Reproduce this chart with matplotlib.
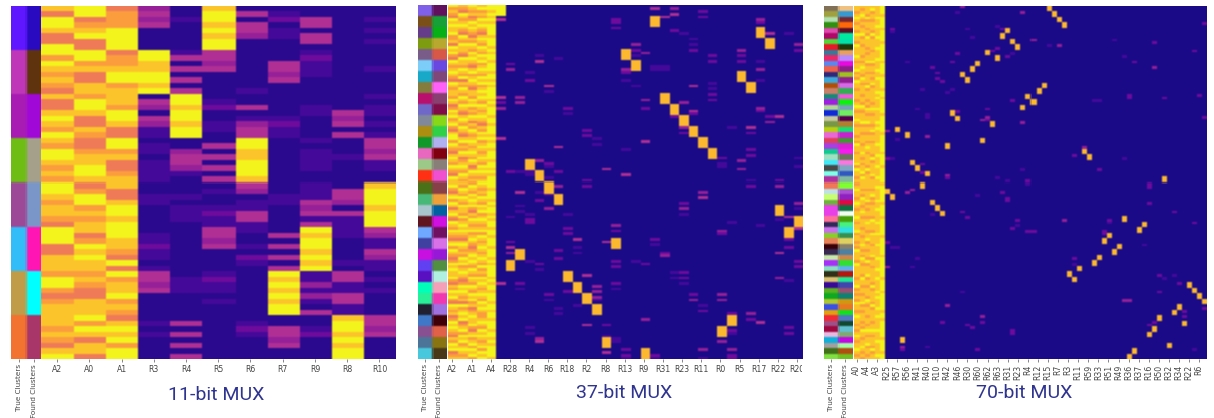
import numpy as np
import matplotlib
matplotlib.use("Agg")
import matplotlib.pyplot as plt
from matplotlib.colors import LinearSegmentedColormap, to_rgb
from matplotlib.transforms import Bbox

FIG_W, FIG_H = 1214, 418
TITLE_COLOR = "#2f3490"
level_colors = ["#1b0a88", "#45099a", "#700c9e", "#962098", "#b03094",
                "#cc5080", "#ee7a58", "#fb9c3e", "#fdc42c", "#f2f41c"]

# ---------- 11-bit panel (64 rows, values on a 0-9 colour level scale)
labels_11 = ["A2", "A0", "A1", "R3", "R4", "R5", "R6", "R7", "R9", "R8", "R10"]
columns_11 = [
    "86998669 97987876 86689879 87998787 99878876 99966888 79976788 88787689",
    "99678966 99786688 79986687 66788998 67997878 86798988 78766888 97986886",
    "67779999 67789978 88799866 99786678 86689989 99887696 97889787 68989799",
    "34340000 99889989 04304311 01101111 00110000 01121101 44340000 01010000",
    "00100000 14040404 99899899 00344310 00101110 00000000 01110000 04040404",
    "89989899 44340000 01200110 04040404 01001211 44340000 12110100 00000000",
    "04044300 00000001 00401344 99889998 43011441 10010210 00000000 01210000",
    "01201100 00443400 00001211 00000000 00110000 04040404 98989899 00443400",
    "00440440 12111000 00110000 10111100 11143414 98998989 11313104 00120000",
    "00000000 00000000 00043404 00010000 04430411 11000010 44114411 89989899",
    "00101010 00010000 10110101 44341100 89998999 43114311 01010000 44340000",
]
true_11 = ["#5f17ff", "#c036b8", "#a81cb4", "#6ebd14", "#9c4a98", "#33bdf8", "#c09c48", "#f27230"]
found_11 = ["#2a0ac0", "#60330f", "#a008d8", "#a4a08a", "#7a96c8", "#ff14b4", "#00ffff", "#a83668"]

# ---------- 37-bit panel (32 clusters, 4 sub-rows each)
tick_37 = ["A2", "A1", "A4", "R28", "R4", "R6", "R18", "R2", "R8", "R13", "R9",
           "R31", "R23", "R11", "R0", "R5", "R17", "R22", "R20"]
address_37 = [
    "9787698988977869 8976987898769878 8798679897897689 9798768987987698 8976897986897698 7987689798767989 8897687989769878 6798987687989678",
    "8769878987698798 8769887987968798 7987987689879876 8978798678987987 8798798798879789 8987689878798978 9876798987869789 8967897989789878",
    "9878679898768798 7989876897898768 8798978798687987 8987898798679878 7987989897687987 8978987678989879 8798798798978678 9889768978979897",
    "8978798987689879 8798978987989789 8987987898768798 9789878987989878 9878798798978987 8979878987898797 8798987898798987 7898798987897989",
    "9989898999989998 9899899989989899 9989899989989998 9899899989989899 9989998989989899 8998999899989899 9989899899989989 9899989989899998",
]
hot_col_37 = [5, 21, 32, 33, 18, 19, 30, 31, 22, 23, 24, 25, 26, 27, 8, 9,
              10, 11, 34, 36, 35, 17, 7, 6, 12, 13, 14, 15, 29, 28, 16, 20]
spots_37 = {
    5: [(5,4),(33,4),(35,2),(37,3),(48,4),(100,4)],
    6: [(21,2),(23,3),(60,2),(76,1),(85,2),(87,4),(89,3)],
    7: [(33,3),(35,3),(60,1),(67,4),(72,1),(74,1),(102,1),(100,2)],
    8: [(24,1),(27,2),(60,1),(61,1),(75,1),(77,2),(78,2),(92,1),(116,1),(118,1)],
    9: [(18,1),(20,4),(56,3),(63,1),(67,1),(70,2),(93,2),(95,1),(121,4),(120,3)],
    10: [(29,4),(31,1),(57,2),(58,1),(62,1),(68,1),(73,3),(104,2),(106,1)],
    11: [(19,1),(51,4),(60,2),(65,3),(88,2),(91,2),(109,1),(111,1)],
    12: [(37,2),(39,1),(75,1),(80,2),(82,2),(103,2),(97,1)],
    13: [(84,4),(87,1),(89,1),(103,1),(108,1)],
    14: [(45,2),(47,2),(63,2),(65,2),(97,4),(115,4)],
    15: [(48,1),(50,1),(101,3),(103,3),(105,3),(106,1)],
    16: [(59,4),(85,4),(115,2),(119,1),(125,4)],
    17: [(5,2),(6,2),(8,2),(79,3),(81,2),(92,2),(94,2),(100,2),(102,1),(120,1),(121,1)],
    18: [(23,3),(24,2),(27,1),(52,1),(61,4),(124,2),(126,2),(127,1)],
    19: [(14,3),(16,2),(18,1),(29,1),(92,1)],
    20: [(17,3),(34,3),(37,2),(49,4),(113,3),(93,2)],
    21: [(1,4),(22,1),(23,1),(84,2),(86,1),(126,2),(127,1)],
    22: [(4,4),(22,1),(23,1),(90,3),(89,2)],
    23: [(1,3),(3,4),(9,2),(37,1),(40,2),(96,1),(98,1)],
    24: [(10,1),(35,3),(44,3),(46,2),(71,2),(73,3),(75,1),(96,2),(98,2),(100,1)],
    25: [(12,1),(14,1),(16,2),(29,4),(38,4),(39,2),(104,2),(106,3)],
    26: [(2,2),(4,2),(67,3),(69,4),(108,1),(110,2),(124,3),(127,1)],
    27: [(18,2),(20,2),(28,1),(30,1),(32,2),(34,2)],
    28: [(55,2),(57,1),(58,1),(81,3),(82,2),(104,3),(106,3),(119,1),(121,3)],
    29: [(44,1),(78,1),(111,2),(124,3),(126,2),(127,2),(115,1),(117,2),(118,1)],
    30: [(16,3),(18,2),(20,2),(56,3),(59,3)],
    31: [(44,4),(46,2),(52,2),(54,2),(63,1),(65,2),(111,3),(113,2)],
    32: [(5,3),(6,2),(20,1),(23,3),(27,1),(37,3),(38,2),(79,1),(114,4)],
    33: [(10,4),(42,3),(40,2)],
    34: [(40,4),(63,2),(65,3),(89,4),(98,3),(77,1)],
    35: [(10,1),(84,2),(87,2),(99,1),(116,2),(118,2),(76,4)],
    36: [(14,3),(16,2),(55,1),(58,1),(71,3),(73,1),(80,4),(92,2),(94,2)],
}
true_37 = ["#7f60e8", "#7a5018", "#643c8a", "#7d9c10", "#7a5c88", "#7ccdf8", "#18a8c8", "#847c3c",
           "#b8106c", "#7068c8", "#80889c", "#ae8e10", "#109828", "#e868c0", "#9cc888", "#ff3014",
           "#4a7018", "#48b878", "#a8c4cc", "#601420", "#6ea8ff", "#4040a0", "#c810e0", "#6040f0",
           "#5810c0", "#00ffb8", "#28f098", "#202030", "#4078c8", "#885090", "#4c7498", "#48c8dc"]
found_37 = ["#60105c", "#18a038", "#08b018", "#b8a830", "#d85848", "#6848e0", "#804878", "#ff60f8",
            "#884070", "#800c48", "#88d818", "#30d048", "#b0b0f0", "#800010", "#888078", "#f050d0",
            "#884048", "#f0a038", "#0060a0", "#d010e0", "#701060", "#d870e8", "#9818d8", "#509040",
            "#b0f0e0", "#f4a0b8", "#f038b0", "#a070e0", "#400008", "#e06048", "#887410", "#483818"]

# ---------- 70-bit panel (64 clusters, 2 sub-rows each)
tick_70 = ["A0", "A4", "A3", "R25", "R57", "R56", "R41", "R40", "R10", "R42", "R46", "R30",
           "R60", "R62", "R63", "R31", "R23", "R4", "R12", "R15", "R7", "R3", "R11", "R59",
           "R33", "R51", "R49", "R36", "R37", "R16", "R50", "R32", "R34", "R22", "R6"]
address_70 = [
    "8878987887988798 8898788978798878 8878987889878887 8798878889798878 7898878987889878 8978878798887988 8878897878798878 9887878987889878",
    "8789878788978878 8878789887987888 7887987888978878 8878898787889798 8878798878987888 7887889878798788 8798878878897878 8878798878898787",
    "8887978878798887 8788978878887978 8878798788978878 8789878888797888 8878889787887898 8788978878879788 8978878887987888 7887898788978878",
    "8978878887978888 7888978878789788 8887898788878978 8788887978888978 8878978788887988 8798887888978878 8888797888879788 8878898788879788",
    "8888988988898889 8889888988988889 8988898888989888 8898889888988898 8988889889888898 8898889888898889 8898888989888988 9888898889888898",
    "9998999989999899 9999899998999989 9899999899999989 9999989999899999 8999999899998999 9998999999899999 9989999899999989 9899999989999899",
]
hot_col_70 = [38, 39, 40, 41, 30, 29, 31, 32, 26, 28, 24, 23, 21, 22, 37, 36,
              34, 35, 33, 19, 20, 27, 8, 10, 25, 18, 45, 46, 11, 12, 14, 61,
              13, 6, 7, 15, 16, 17, 53, 57, 56, 50, 49, 52, 51, 48, 47, 44,
              42, 43, 66, 67, 68, 69, 64, 63, 60, 65, 59, 58, 9, 62, 55, 54]
spots_70 = {
    6: [(45,3),(55,2),(85,2),(94,3)], 7: [(8,2),(9,1),(55,1),(87,1)],
    8: [(48,1),(87,1)], 9: [(123,3),(124,2)], 10: [(20,1),(67,3)],
    11: [(66,3),(94,1)], 12: [(37,1),(58,2),(91,1)], 13: [(30,1),(57,2),(60,2)],
    14: [(47,3),(39,1),(40,1),(123,1)], 15: [(22,2),(75,1)], 16: [(24,2),(26,2),(73,2)],
    17: [(27,2),(114,2),(74,2)], 18: [(31,1),(61,3),(108,3),(62,2)], 19: [(20,2),(30,1)],
    20: [(2,1),(17,2),(38,2)], 21: [(0,3),(74,2),(103,1)], 22: [(8,1),(76,2),(115,2)],
    23: [(11,1),(116,2)], 24: [(124,2),(68,1)], 25: [(41,3),(112,3),(114,2)],
    26: [(37,2),(40,3),(41,2)], 27: [(16,2)], 28: [(7,1),(15,2),(62,1)], 29: [(67,2),(8,2)],
    30: [(69,2),(70,2),(63,1),(18,2)], 31: [(17,1),(80,2),(117,2),(118,2),(34,2)],
    32: [(77,2),(79,1)], 33: [(2,3),(42,3),(59,1)], 34: [(63,2),(64,1),(81,2)],
    35: [(12,3),(81,2)], 38: [(14,1)], 40: [(14,3)], 41: [(77,3)],
    43: [(54,2),(91,2),(93,1)], 45: [(51,3)], 47: [(34,1)], 48: [(59,2),(34,1)],
    49: [(81,2),(82,2)], 50: [(77,2),(78,1)], 51: [(12,1)], 53: [(18,1),(55,1),(106,3)],
    54: [(32,2),(33,2),(106,3)], 55: [(20,2)], 57: [(86,1)],
    58: [(64,2),(65,2),(71,2),(115,2)], 59: [(13,2),(22,3),(114,2)], 60: [(103,2),(97,2)],
    61: [(33,2),(98,1)], 63: [(74,2),(97,1)], 64: [(100,2)], 65: [(110,2),(112,2)],
    67: [(16,2),(78,2),(124,1)], 68: [(32,2)], 69: [(6,2),(40,2),(109,2)],
}
true_70 = ["#807058", "#a0a040", "#b0e0b0", "#309010", "#e048b0", "#b00868", "#50d838", "#e81828",
           "#387898", "#e82868", "#5888f0", "#f06048", "#302878", "#40a8d8", "#b05008", "#c88068",
           "#188878", "#a020e0", "#b0d890", "#1028d8", "#c8c8a0", "#789848", "#b8d010", "#e868d8",
           "#e04058", "#a840e0", "#10c890", "#a0e0c0", "#40e8f8", "#484848", "#80ffe8", "#b030a0",
           "#f07858", "#c0e0e8", "#c8ff70", "#70b040", "#e840e8", "#e840e8", "#ff7098", "#302858",
           "#c870e8", "#88d028", "#e88058", "#380008", "#382850", "#c8e8a8", "#a830f8", "#88e0c0",
           "#303018", "#d8c070", "#380898", "#58b020", "#10a820", "#b0c830", "#3850e8", "#e0a010",
           "#f02838", "#a05088", "#a00840", "#e8b8e0", "#10b0d8", "#a0a0a0", "#407018", "#80e040"]
found_70 = ["#f0c080", "#3898d0", "#782830", "#ff6808", "#581028", "#00e8a0", "#00e0a8", "#203808",
            "#e8a060", "#b888ff", "#e808e0", "#8c2088", "#a0c020", "#902090", "#d868e8", "#30b050",
            "#f058d8", "#10f010", "#78a0b8", "#70f060", "#580050", "#b08030", "#18e070", "#c820d0",
            "#409830", "#d820d0", "#f818f0", "#687858", "#f878e0", "#80a8c0", "#3058c0", "#80b8a0",
            "#80ff30", "#a850d0", "#9020c0", "#e00840", "#107040", "#f0fff0", "#48a008", "#48f080",
            "#30e0e0", "#389050", "#e0d060", "#888068", "#5080a0", "#d08848", "#30e030", "#60b0f0",
            "#b01810", "#20e890", "#4048b0", "#985070", "#108070", "#d09810", "#e87820", "#10e020",
            "#5078c0", "#104830", "#60c0d0", "#80a870", "#c008e0", "#a0ffa0", "#b05010", "#70c020"]

titles = ["11-bit MUX", "37-bit MUX", "70-bit MUX"]
hot_level = 7.7

cmap = LinearSegmentedColormap.from_list("levels", level_colors)


def digits(s):
    return [int(c) for c in s.replace(" ", "")]


def build_sparse(address, hot_cols, spots, n_cols, sub):
    n_clusters = len(hot_cols)
    m = np.zeros((n_clusters * sub, n_cols))
    for j, s in enumerate(address):
        m[:, j] = digits(s)
    for col, items in spots.items():
        for r, v in items:
            m[r, col] = v
    for i, col in enumerate(hot_cols):
        m[i * sub:(i + 1) * sub, col] = hot_level
    return m


matrix_11 = np.array([digits(s) for s in columns_11], dtype=float).T
matrix_11[matrix_11 == 0] = 0.4
matrix_37 = build_sparse(address_37, hot_col_37, spots_37, 37, 4)
matrix_70 = build_sparse(address_70, hot_col_70, spots_70, 70, 2)
matrix_37[:4, 5] = 9

fig = plt.figure(figsize=(FIG_W / 100, FIG_H / 100), dpi=100)
fig.patch.set_facecolor("white")


def px_axes(x0, x1, y0, y1):
    return fig.add_axes([x0 / FIG_W, 1 - y1 / FIG_H, (x1 - x0) / FIG_W, (y1 - y0) / FIG_H])


def soften(rgb, w, h):
    """Resample a cell image to pixel size and soften it like the scanned reference."""
    rows = (np.arange(int(h)) * rgb.shape[0] / int(h)).astype(int)
    cols = (np.arange(int(w)) * rgb.shape[1] / int(w)).astype(int)
    img = rgb[rows][:, cols]
    kernel = np.array([1, 2, 1]) / 4
    for axis in (0, 1):
        pad = [(0, 0)] * 3
        pad[axis] = (1, 1)
        padded = np.pad(img, pad, mode="edge")
        img = np.apply_along_axis(lambda v: np.convolve(v, kernel, mode="valid"), axis, padded)
    return img


def style(ax):
    for s in ax.spines.values():
        s.set_visible(False)
    ax.tick_params(axis="both", length=2, width=0.5, color="#555555",
                   labelcolor="#444444", labelsize=5.6, pad=2)
    ax.set_yticks([])


def strips(x0, x1, y0, y1, true_c, found_c):
    ax = px_axes(x0, x1, y0, y1)
    img = np.array([[to_rgb(a), to_rgb(b)] for a, b in zip(true_c, found_c)])
    ax.imshow(soften(img, x1 - x0, y1 - y0), aspect="auto", interpolation="nearest",
              extent=[0, 2, len(true_c), 0])
    style(ax)
    ax.tick_params(axis="x", labelsize=5.2, pad=1.5)
    ax.set_xticks([0.5, 1.5])
    ax.set_xticklabels(["True Clusters", "Found Clusters"], rotation=90)


def heat(x0, x1, y0, y1, m, labels, step, rotation, clip_right=None):
    ax = px_axes(x0, x1, y0, y1)
    rgb = cmap(m / 9)[:, :, :3]
    ax.imshow(soften(rgb, x1 - x0, y1 - y0), aspect="auto", interpolation="nearest",
              extent=[0, m.shape[1], m.shape[0], 0])
    style(ax)
    ax.set_xticks(np.arange(0, m.shape[1], step) + 0.5)
    ax.set_xticklabels(labels, rotation=rotation)
    if clip_right:
        for t in ax.get_xticklabels():
            t.set_clip_on(True)
            t.set_clip_box(Bbox([[0, 0], [clip_right, FIG_H]]))


strips(11.3, 41, 5.7, 359.3, true_11, found_11)
heat(41, 395.5, 5.7, 359.3, matrix_11, labels_11, 1, 0)
strips(417.7, 446.5, 5, 359.3, true_37, found_37)
heat(447.7, 801.7, 5, 359.3, matrix_37, tick_37, 2, 0, clip_right=802)
strips(823.7, 852.5, 5.5, 359.3, true_70, found_70)
heat(854, 1206.7, 5.5, 359.3, matrix_70, tick_70, 2, 90)

for x, y, t in zip([216, 624, 1024], [395, 393, 393], titles):
    fig.text(x / FIG_W, 1 - y / FIG_H, t, ha="center", va="center", color=TITLE_COLOR,
             fontsize=14, family="Roboto")

fig.savefig("out.png", dpi=100)
